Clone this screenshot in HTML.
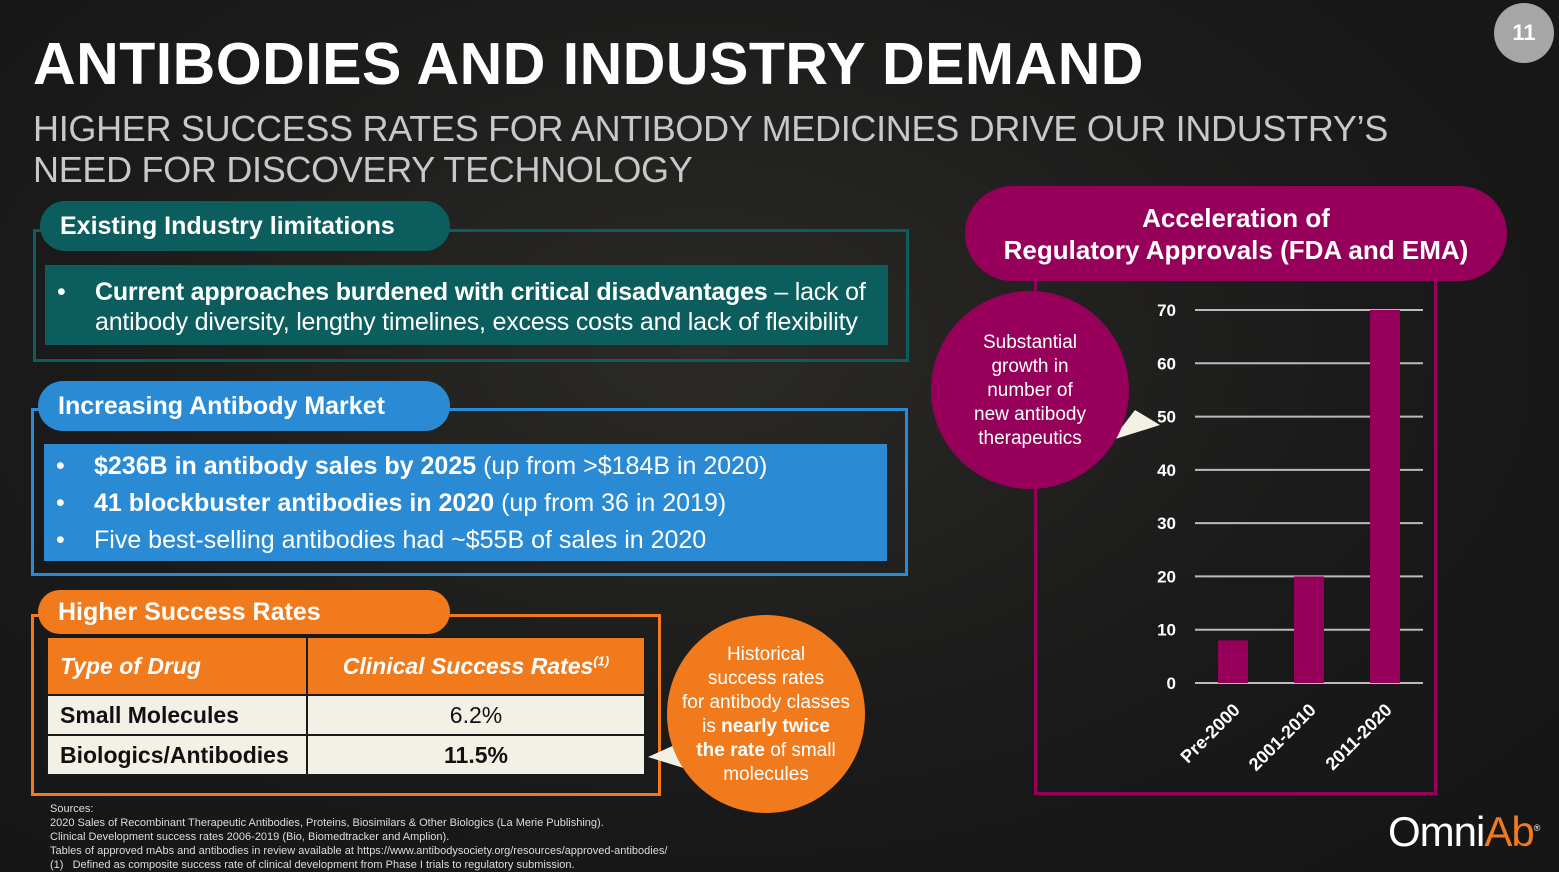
<!DOCTYPE html>
<html><head><meta charset="utf-8">
<style>
body{margin:0;width:1559px;height:872px;overflow:hidden;background:radial-gradient(ellipse at 45% 40%,#2b2a26 0%,#1a1a1a 55%,#151515 100%);font-family:"Liberation Sans","DejaVu Sans",sans-serif;color:#fff;position:relative}
.abs{position:absolute}
.tab{position:absolute;border-radius:0 30px 30px 0;font-weight:bold;font-size:25px;padding-left:20px;box-sizing:border-box;display:flex;align-items:center}
.circ{position:absolute;border-radius:50%;text-align:center;box-sizing:border-box}
ul{margin:0;padding:0;list-style:none}
li{position:relative;padding-left:50px}
li:before{content:"•";position:absolute;left:12px}
</style></head><body>
<div class="abs" style="left:1494px;top:3px;width:60px;height:60px;border-radius:50%;background:#a6a6a6;color:#fff;font-weight:bold;font-size:22px;display:flex;align-items:center;justify-content:center">11</div>
<div class="abs" style="left:33px;top:30px;font-size:59px;font-weight:bold;letter-spacing:0.5px">ANTIBODIES AND INDUSTRY DEMAND</div>
<div class="abs" style="left:33px;top:108px;font-size:36px;line-height:41px;color:#c8c8c8;letter-spacing:-0.3px">HIGHER SUCCESS RATES FOR ANTIBODY MEDICINES DRIVE OUR INDUSTRY’S<br>NEED FOR DISCOVERY TECHNOLOGY</div>

<div class="abs" style="left:33px;top:229px;width:876px;height:133px;border:3px solid #0c5e5e;box-sizing:border-box"></div>
<div class="tab" style="left:40px;top:201px;width:410px;height:50px;background:#0c5e5e;border-radius:25px">Existing Industry limitations</div>
<div class="abs" style="left:45px;top:265px;width:843px;height:80px;background:#0c5e5e;font-size:25px;line-height:30px;padding-top:12px;box-sizing:border-box;letter-spacing:-0.2px">
<ul><li><b>Current approaches burdened with critical disadvantages</b> – lack of antibody diversity, lengthy timelines, excess costs and lack of flexibility</li></ul></div>

<div class="abs" style="left:31px;top:408px;width:877px;height:168px;border:3px solid #2a8ad4;box-sizing:border-box"></div>
<div class="tab" style="left:38px;top:381px;width:412px;height:50px;background:#2a8ad4;border-radius:25px">Increasing Antibody Market</div>
<div class="abs" style="left:44px;top:444px;width:843px;height:117px;background:#2a8ad4;font-size:25px;line-height:37px;padding-top:4px;box-sizing:border-box">
<ul><li><b>$236B in antibody sales by 2025</b> (up from &gt;$184B in 2020)</li><li><b>41 blockbuster antibodies in 2020</b> (up from 36 in 2019)</li><li>Five best-selling antibodies had ~$55B of sales in 2020</li></ul></div>

<div class="abs" style="left:31px;top:614px;width:630px;height:182px;border:3px solid #f07a1c;box-sizing:border-box"></div>
<div class="tab" style="left:38px;top:590px;width:412px;height:44px;background:#f07a1c;border-radius:22px">Higher Success Rates</div>
<table class="abs" style="left:46px;top:636px;width:600px;border-collapse:collapse;font-size:23px">
<tr style="background:#f07a1c;height:58px;font-style:italic;font-weight:bold"><td style="padding-left:12px;width:245px;border:2px solid #1a1a1a">Type of Drug</td><td style="text-align:center;border:2px solid #1a1a1a">Clinical Success Rates<sup style="font-size:13px">(1)</sup></td></tr>
<tr style="background:#f3f0e6;color:#111;height:40px"><td style="padding-left:12px;font-weight:bold;border:2px solid #1a1a1a">Small Molecules</td><td style="text-align:center;border:2px solid #1a1a1a">6.2%</td></tr>
<tr style="background:#f3f0e6;color:#111;height:40px"><td style="padding-left:12px;font-weight:bold;border:2px solid #1a1a1a">Biologics/Antibodies</td><td style="text-align:center;font-weight:bold;border:2px solid #1a1a1a">11.5%</td></tr>
</table>
<svg class="abs" style="left:0;top:0" width="1559" height="872">
<polygon points="648,757 690,738 690,770" fill="#f3f0e6"/>
<polygon points="1112,440 1160,425 1135,410" fill="#f3f0e6"/>
</svg>
<div class="circ" style="left:667px;top:615px;width:198px;height:198px;background:#f07a1c;font-size:19px;line-height:24px;padding-top:28px">Historical<br>success rates<br>for antibody classes<br>is <b>nearly twice</b><br><b>the rate</b> of small<br>molecules</div>

<div class="abs" style="left:1034px;top:260px;width:403px;height:535px;border:3px solid #96005a;box-sizing:border-box"></div>
<div class="abs" style="left:965px;top:186px;width:542px;height:95px;border-radius:48px;background:#96005a;font-size:26px;font-weight:bold;text-align:center;line-height:32px;display:flex;align-items:center;justify-content:center">Acceleration of<br>Regulatory Approvals (FDA and EMA)</div>
<div class="circ" style="left:931px;top:291px;width:198px;height:198px;background:#96005a;font-size:19px;line-height:24px;padding-top:40px">Substantial<br>growth in<br>number of<br>new antibody<br>therapeutics</div>

<svg id="chart" class="abs" style="left:0;top:0" width="1559" height="872"></svg>

<div class="abs" style="left:50px;top:802px;font-size:11px;line-height:14px;color:#ddd">Sources:<br>2020 Sales of Recombinant Therapeutic Antibodies, Proteins, Biosimilars &amp; Other Biologics (La Merie Publishing).<br>Clinical Development success rates 2006-2019 (Bio, Biomedtracker and Amplion).<br>Tables of approved mAbs and antibodies in review available at https://www.antibodysociety.org/resources/approved-antibodies/<br>(1)&nbsp;&nbsp;&nbsp;Defined as composite success rate of clinical development from Phase I trials to regulatory submission.</div>
<div class="abs" style="left:1388px;top:808px;font-size:42px;color:#fff;letter-spacing:-1px">Omni<span style="color:#f07a1c">Ab</span><sup style="font-size:9px">®</sup></div>

<script>
const categories=["Pre-2000","2001-2010","2011-2020"];
const approvals=[8,20,70];
const ticks=[0,10,20,30,40,50,60,70];
const ns="http://www.w3.org/2000/svg";
const svg=document.getElementById("chart");
const y0=683,y70=310,xL=1195,xR=1423;
const y=v=>y0-(v/70)*(y0-y70);
const bandW=(xR-xL)/categories.length;
const x=i=>xL+bandW*i+bandW/2;
function mk(t,a){const e=document.createElementNS(ns,t);for(const k in a)e.setAttribute(k,a[k]);svg.appendChild(e);return e;}
ticks.forEach(t=>{
 const l=mk("line",{x1:xL,x2:xR,y1:y(t),y2:y(t),stroke:"#bbb","stroke-width":2});
 
 
 const tx=mk("text",{x:1176,y:y(t)+6,"text-anchor":"end","font-size":17,"font-weight":"bold",fill:"#fff","font-family":"Liberation Sans, sans-serif"});
 tx.textContent=t;
 
 
});
categories.forEach((c,i)=>{
 const b=mk("rect",{x:x(i)-15,width:30,y:y(approvals[i]),height:y0-y(approvals[i]),fill:"#96005a"});
 
 
 const t=mk("text",{transform:`translate(${x(i)+8},${y0+28}) rotate(-45)`,"text-anchor":"end","font-size":18,"font-weight":"bold",fill:"#fff","font-family":"Liberation Sans, sans-serif"});
 t.textContent=c;
 
 
});
</script>
</body></html>
